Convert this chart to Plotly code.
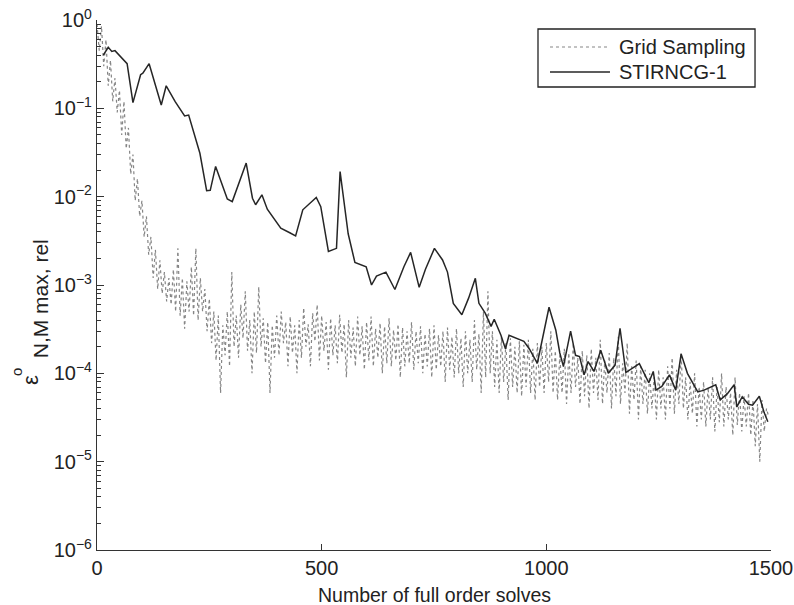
import plotly.graph_objects as go

# ---------------- data ----------------
grid_x = list(range(0, 1500, 5))
grid_y = [
    0.9, 0.45, 0.85, 0.3, 0.6, 0.18, 0.35, 0.12, 0.22, 0.09,
    0.16, 0.05, 0.12, 0.035, 0.06, 0.018, 0.03, 0.009, 0.016, 0.006,
    0.009, 0.0035, 0.006, 0.0022, 0.0035, 0.0012, 0.0025, 0.0009, 0.0019, 0.0008,
    0.0014, 0.00065, 0.0012, 0.0006, 0.0015, 0.0005, 0.0026, 0.00045, 0.0012, 0.00032,
    0.0011, 0.0005, 0.0016, 0.00045, 0.0026, 0.0004, 0.0012, 0.0005, 0.0009, 0.0003,
    7e-4, 2.2e-4, 5e-4, 1.4e-4, 4.5e-4, 6e-5, 3.5e-4, 1.6e-4, 5e-4, 1.2e-4,
    1.4e-3, 2e-4, 4.5e-4, 1.5e-4, 6e-4, 2.5e-4, 8.5e-4, 1.8e-4, 4e-4, 1e-4,
    5e-4, 1.7e-4, 9.5e-4, 2e-4, 4.2e-4, 1.3e-4, 3.8e-4, 6e-5, 3.5e-4, 1.5e-4,
    4.5e-4, 1.6e-4, 5e-4, 2.2e-4, 3.8e-4, 1.2e-4, 4.4e-4, 1.7e-4, 3.5e-4, 1e-4,
    4e-4, 1.5e-4, 5.5e-4, 2e-4, 3.6e-4, 1.2e-4, 4.8e-4, 2.3e-4, 6e-4, 1.4e-4,
    4.5e-4, 1.8e-4, 3.8e-4, 1.1e-4, 4.2e-4, 1.6e-4, 3.5e-4, 1.3e-4, 4.6e-4, 1.7e-4,
    3.6e-4, 9e-5, 4e-4, 1.5e-4, 3.3e-4, 1.2e-4, 4.4e-4, 1.6e-4, 3.4e-4, 1.1e-4,
    3.8e-4, 1.4e-4, 4.4e-4, 1.2e-4, 3.2e-4, 1.5e-4, 3.7e-4, 1e-4, 3.4e-4, 1.3e-4,
    4.2e-4, 1.2e-4, 3.1e-4, 1.4e-4, 3.6e-4, 9e-5, 3.3e-4, 1.2e-4, 3e-4, 1.3e-4,
    3.8e-4, 1.1e-4, 3e-4, 1.3e-4, 3.4e-4, 1e-4, 2.8e-4, 1.2e-4, 3.2e-4, 9e-5,
    3.5e-4, 1.1e-4, 2.7e-4, 1.2e-4, 3e-4, 8e-5, 3.3e-4, 1.1e-4, 2.6e-4, 9e-5,
    3.2e-4, 1e-4, 2.5e-4, 7e-5, 3e-4, 1e-4, 2.4e-4, 8e-5, 4e-4, 1.1e-4,
    2.8e-4, 6e-5, 5e-4, 9e-5, 8.5e-4, 1e-4, 3e-4, 7e-5, 2.4e-4, 6e-5,
    2.6e-4, 8e-5, 2.2e-4, 5e-5, 2.5e-4, 7e-5, 2e-4, 6e-5, 2.3e-4, 5.5e-5,
    2.1e-4, 7e-5, 2.4e-4, 6e-5, 1.9e-4, 5e-5, 2.2e-4, 7e-5, 2e-4, 6e-5,
    2.2e-4, 8e-5, 3e-4, 6e-5, 1.8e-4, 5e-5, 1.6e-4, 6e-5, 1.9e-4, 4.5e-5,
    1.7e-4, 6e-5, 2.2e-4, 7e-5, 1.5e-4, 4.5e-5, 1.8e-4, 5.5e-5, 1.6e-4, 4e-5,
    1.9e-4, 6e-5, 1.5e-4, 5e-5, 2.4e-4, 4.5e-5, 1.4e-4, 6e-5, 1.7e-4, 4e-5,
    1.5e-4, 5.5e-5, 2.6e-4, 4.5e-5, 1.3e-4, 6e-5, 2.2e-4, 3.5e-5, 1.2e-4, 5e-5,
    1.4e-4, 3e-5, 1.2e-4, 4.5e-5, 1.1e-4, 3.5e-5, 1e-4, 4e-5, 9e-5, 3e-5,
    1.1e-4, 4e-5, 9e-5, 3e-5, 1.2e-4, 4e-5, 1.5e-4, 3.5e-5, 1.1e-4, 4.5e-5,
    1.7e-4, 4e-5, 9e-5, 3e-5, 8e-5, 3.5e-5, 1e-4, 2.5e-5, 7e-5, 3e-5,
    8e-5, 2.5e-5, 7e-5, 3e-5, 9e-5, 2.2e-5, 7e-5, 2.8e-5, 1e-4, 2.5e-5,
    7e-5, 3e-5, 6e-5, 2e-5, 9e-5, 2.6e-5, 6e-5, 2.2e-5, 5.5e-5, 2.5e-5,
    6e-5, 2e-5, 5e-5, 1.5e-5, 4.5e-5, 1e-5, 5e-5, 2.2e-5, 4e-5, 3.2e-5,
]

stir_x = [14, 25, 33, 40, 67, 80, 97, 102, 116, 143, 154, 174, 195, 204, 229, 244,
          252, 264, 290, 301, 332, 346, 353, 367, 379, 409, 429, 442, 458, 474, 488,
          498, 515, 533, 541, 559, 574, 599, 611, 622, 643, 663, 683, 698, 717, 731,
          751, 769, 780, 793, 812, 827, 842, 850, 864, 877, 884, 899, 909, 917, 933,
          950, 962, 980, 1006, 1021, 1030, 1038, 1054, 1065, 1074, 1084, 1093, 1106,
          1121, 1138, 1153, 1164, 1177, 1207, 1228, 1238, 1244, 1257, 1274, 1288,
          1300, 1314, 1337, 1351, 1377, 1387, 1403, 1418, 1424, 1436, 1450, 1459,
          1474, 1485, 1493]
stir_y = [0.40, 0.49, 0.44, 0.45, 0.32, 0.116, 0.24, 0.25, 0.32, 0.109, 0.18, 0.119,
          0.082, 0.084, 0.031, 0.0117, 0.0118, 0.022, 0.0094, 0.0088, 0.024, 0.0096,
          0.0081, 0.0105, 0.0072, 0.0044, 0.0039, 0.0036, 0.0071, 0.0084, 0.0098,
          0.0077, 0.0024, 0.0026, 0.0192, 0.0038, 0.0018, 0.00161, 0.00100, 0.00126,
          0.0014, 0.00089, 0.00161, 0.00234, 0.00094, 0.00151, 0.0026, 0.00192, 0.0014,
          0.00062, 0.00046, 0.00071, 0.00119, 0.00062, 0.00048, 0.00034, 0.00041,
          0.00027, 0.00019, 0.00027, 0.00025, 0.00023, 0.00019, 0.00013, 0.00056,
          0.00031, 0.00017, 0.00012, 0.0003, 0.00016, 0.000155, 0.000096, 0.000136,
          0.000105, 0.000183, 0.0001, 0.000124, 0.000324, 0.000102, 0.000129,
          0.0000783, 0.000105, 0.0000646, 0.000071, 0.000096, 0.0000646, 0.000166,
          0.0001, 0.0000617, 0.0000646, 0.0000741, 0.00005, 0.0000589, 0.0000741,
          0.0000417, 0.0000543, 0.0000447, 0.0000436, 0.000055, 0.0000357, 0.0000283]

series_names = ["Grid Sampling", "STIRNCG-1"]
y_tick_vals = [1, 1e-1, 1e-2, 1e-3, 1e-4, 1e-5, 1e-6]
y_tick_text = ["10<sup>0</sup>", "10<sup>\u22121</sup>", "10<sup>\u22122</sup>",
               "10<sup>\u22123</sup>", "10<sup>\u22124</sup>", "10<sup>\u22125</sup>",
               "10<sup>\u22126</sup>"]
x_tick_vals = [0, 500, 1000, 1500]
y_minor_vals = [m * 10.0 ** e for e in range(-6, 0) for m in range(2, 10)]

assert len(grid_x) == len(grid_y)
assert len(stir_x) == len(stir_y)

FONT = "Liberation Sans, Arial, Helvetica, sans-serif"
INK = "#222"
GRAY = "#858585"
DARK = "#262626"

fig = go.Figure()
fig.add_trace(go.Scatter(x=grid_x, y=grid_y, mode="lines", name=series_names[0],
                         showlegend=False,
                         line=dict(color=GRAY, width=1.2, dash="dot")))
fig.add_trace(go.Scatter(x=stir_x, y=stir_y, mode="lines", name=series_names[1],
                         showlegend=False,
                         line=dict(color=DARK, width=1.5)))

fig.update_layout(
    width=794, height=605,
    margin=dict(l=97, r=23, t=20, b=55, autoexpand=False),
    paper_bgcolor="white", plot_bgcolor="white",
    font=dict(family=FONT, size=20, color=INK),
    showlegend=False,
    xaxis=dict(range=[0, 1500], tickvals=x_tick_vals, ticks="inside", ticklen=6,
               showline=True, linecolor="#333", linewidth=1.3, tickcolor="#333",
               showgrid=False, zeroline=False, automargin=False,
               tickfont=dict(size=20)),
    yaxis=dict(type="log", range=[-6, 0], tickvals=y_tick_vals, ticktext=y_tick_text,
               ticks="inside", ticklen=7, showline=True, linecolor="#333", linewidth=1.3,
               tickcolor="#333", showgrid=False, zeroline=False, automargin=False,
               tickfont=dict(size=20),
               minor=dict(tickvals=y_minor_vals, ticks="inside", ticklen=4,
                          tickcolor="#333", showgrid=False)),
)

# ---- legend box (drawn in paper coordinates, top-right of the axes) ----
fig.add_shape(type="rect", xref="paper", yref="paper", x0=0.6543, x1=0.9763,
              y0=0.8736, y1=0.983, line=dict(color=INK, width=1.3),
              fillcolor="white", layer="above")
legend_rows = [(0.9491, GRAY, "dot", 1.2), (0.9019, DARK, "solid", 1.5)]
for name, (ly, col, dash, w) in zip(series_names, legend_rows):
    fig.add_shape(type="line", xref="paper", yref="paper", x0=0.6721, x1=0.7611,
                  y0=ly, y1=ly, line=dict(color=col, width=w, dash=dash), layer="above")
    fig.add_annotation(xref="paper", yref="paper", x=0.7715, y=ly, text=name,
                       showarrow=False, xanchor="left", yanchor="middle",
                       font=dict(size=20))

# x-axis title
fig.add_annotation(xref="paper", yref="paper", x=0.5, y=-0.085,
                   text="Number of full order solves", showarrow=False,
                   xanchor="center", yanchor="middle", font=dict(size=19.5))

# y-axis title (epsilon with stacked super/subscript)
fig.add_annotation(xref="paper", yref="paper", x=-0.0979, y=0.321, textangle=-90,
                   text="\u03b5", showarrow=False,
                   xanchor="center", yanchor="middle", font=dict(size=22))
fig.add_annotation(xref="paper", yref="paper", x=-0.1187, y=0.336, textangle=-90,
                   text="o", showarrow=False,
                   xanchor="center", yanchor="middle", font=dict(size=15))
fig.add_annotation(xref="paper", yref="paper", x=-0.0846, y=0.475, textangle=-90,
                   text="N,M max, rel", showarrow=False,
                   xanchor="center", yanchor="middle", font=dict(size=21))

fig.write_html("out.html")
